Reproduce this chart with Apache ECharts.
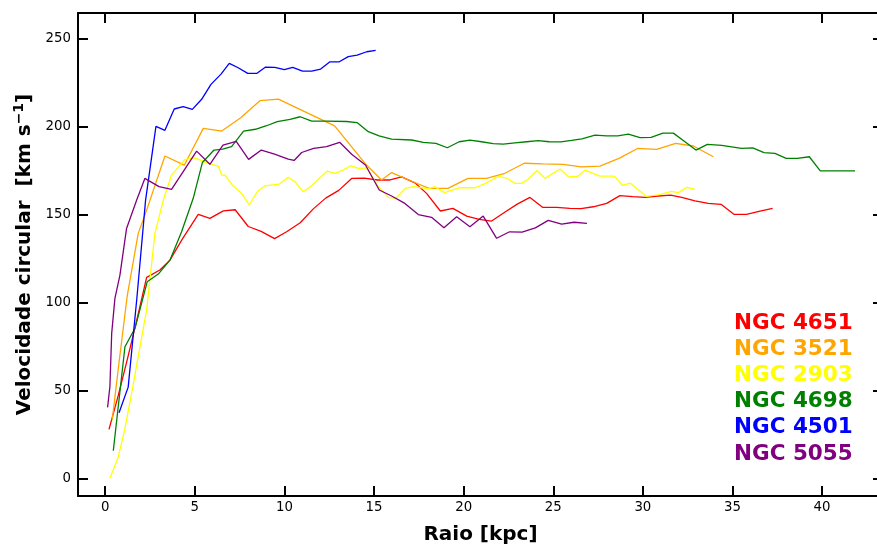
<!DOCTYPE html>
<html>
<head>
<meta charset="utf-8">
<script src="https://cdn.jsdelivr.net/npm/echarts@6/dist/echarts.min.js"></script>
<style>
  html, body { margin: 0; padding: 0; background: #fff; overflow: hidden; }
  #chart { width: 886px; height: 546px; }
</style>
</head>
<body>
<div id="chart"></div>
<script>
// tick values
var xTicks = [0, 5, 10, 15, 20, 25, 30, 35, 40];
var yTicks = [0, 50, 100, 150, 200, 250];

var names = ['NGC 4651', 'NGC 3521', 'NGC 2903', 'NGC 4698', 'NGC 4501', 'NGC 5055'];
var colors = ['#ff0000', '#ffa500', '#ffff00', '#008000', '#0000ff', '#800080'];

// NGC 4651
var r4651 = [0.21, 0.72, 1.24, 1.76, 2.31, 3.05, 3.61, 4.3, 5.19, 5.84, 6.59, 7.25, 7.98, 8.7, 9.45, 10.12, 10.88, 11.61, 12.3, 13.03, 13.75, 14.45, 15.19, 15.89, 16.54, 17.28, 17.93, 18.7, 19.4, 20.17, 20.87, 21.56, 22.31, 22.99, 23.7, 24.42, 25.19, 25.93, 26.55, 27.23, 27.98, 28.72, 29.43, 30.12, 30.86, 31.55, 32.17, 32.91, 33.65, 34.36, 35.08, 35.79, 36.54, 37.24];
var v4651 = [28, 47, 68, 90, 114.3, 118.5, 124.1, 136, 150.1, 147.8, 152.1, 152.7, 143.2, 140.4, 136.3, 140.2, 145.3, 153.2, 159.3, 163.7, 170.5, 170.7, 169.6, 169.6, 171.4, 168, 162, 152, 153.5, 149.1, 147.3, 146.3, 151.4, 155.9, 159.7, 154, 154, 153.5, 153.3, 154.4, 156.3, 160.7, 160.1, 159.7, 160.5, 161, 159.7, 157.8, 156.3, 155.8, 150.1, 150.1, 151.9, 153.5];

// NGC 3521
var r3521 = [0.39, 0.73, 1.23, 1.84, 2.31, 3.33, 4.41, 5.47, 6.5, 7.56, 8.63, 9.66, 12.8, 14.52, 15.42, 15.98, 16.5, 17.0, 18.07, 19.12, 20.24, 21.28, 22.3, 23.38, 24.44, 25.54, 26.58, 27.6, 28.7, 29.7, 30.77, 31.83, 32.82, 33.93];
var v3521 = [33.3, 62.7, 104, 139.3, 152.5, 183.2, 178, 198.9, 197.4, 204.9, 214.6, 215.5, 200.3, 178.7, 169.6, 173.8, 171.5, 169.3, 164.8, 164.8, 170.5, 170.5, 173.4, 179.1, 178.7, 178.5, 177.1, 177.5, 182, 187.5, 187, 190.4, 188.9, 182.8];

// NGC 2903
var r2903 = [0.26, 0.73, 1.1, 1.47, 1.84, 2.31, 2.77, 3.24, 3.7, 4.45, 5.0, 5.75, 6.31, 6.5, 6.68, 7.09, 7.61, 8.04, 8.48, 8.91, 9.71, 10.21, 10.59, 11.05, 11.52, 11.98, 12.39, 12.82, 13.28, 13.69, 14.12, 14.59, 15.24, 15.79, 16.22, 16.75, 17.19, 17.66, 18.03, 18.4, 18.93, 19.79, 20.63, 21.19, 21.93, 22.4, 22.86, 23.24, 23.6, 24.1, 24.54, 25.38, 25.84, 26.35, 26.77, 27.6, 28.4, 28.87, 29.3, 30.19, 30.93, 31.6, 31.98, 32.46, 32.91];
var v2903 = [0.2, 12.5, 28.6, 48.5, 69.3, 95.8, 139.3, 158.2, 172.4, 181.3, 182.2, 179, 177.5, 172.4, 172.4, 166.7, 162, 155.4, 162.9, 166.3, 167.3, 171.1, 168.6, 162.9, 166.3, 170.9, 174.7, 173.4, 175.2, 177.7, 176.2, 176.5, 165.8, 159.7, 159.2, 164.8, 165.8, 165.2, 164.5, 165.8, 162.4, 165.3, 165.2, 167.5, 171.6, 170.7, 167.7, 167.7, 170, 175, 170.5, 175.8, 171.4, 171.6, 175.2, 171.8, 171.8, 166.5, 167.8, 160.3, 161.3, 163.1, 162.4, 165.4, 164.3];

// NGC 4698
var r4698 = [0.45, 1.1, 1.66, 2.34, 2.96, 3.61, 4.26, 4.91, 5.42, 6.07, 6.55, 7.05, 7.72, 8.38, 9.0, 9.6, 10.31, 10.88, 11.52, 12.35, 13.47, 14.05, 14.68, 15.28, 15.98, 17.1, 17.75, 18.45, 19.09, 19.75, 20.35, 21.0, 21.65, 22.21, 22.86, 23.52, 24.16, 24.77, 25.42, 26.02, 26.6, 27.33, 27.98, 28.6, 29.19, 29.84, 30.46, 31.12, 31.7, 32.35, 32.96, 33.6, 34.4, 35.51, 36.13, 36.76, 37.37, 38.0, 38.62, 39.29, 39.9, 41.84];
var v4698 = [15.9, 74.9, 85.4, 111.8, 116.2, 124.1, 140.2, 159.2, 179.5, 186.6, 187.1, 188.5, 197.3, 198.4, 200.4, 202.7, 204, 205.5, 203, 203, 202.8, 202.2, 197, 194.6, 192.8, 192.3, 191, 190.4, 187.9, 191.3, 192.2, 191.3, 190.3, 190, 190.7, 191.3, 191.9, 191.3, 191.2, 192.1, 193, 195.1, 194.7, 194.6, 195.6, 193.7, 193.8, 196.2, 196.2, 191.3, 186.6, 189.8, 189.3, 187.5, 187.8, 185.1, 184.7, 181.9, 181.9, 182.8, 174.8, 174.8];

// NGC 4501
var r4501 = [0.77, 1.28, 1.77, 2.25, 2.83, 3.33, 3.85, 4.35, 4.86, 5.38, 5.9, 6.46, 6.92, 7.42, 7.95, 8.45, 8.95, 9.47, 9.99, 10.46, 11.01, 11.52, 12.02, 12.54, 13.06, 13.56, 14.06, 14.59, 15.09];
var v4501 = [37.5, 52, 103, 158, 200, 197.8, 209.9, 211.2, 209.7, 215.4, 223.9, 229.7, 235.8, 233.3, 230.1, 230.1, 233.7, 233.5, 232.2, 233.5, 231.4, 231.4, 232.6, 236.7, 236.7, 239.6, 240.5, 242.4, 243.2];

// NGC 5055
var r5055 = [0.13, 0.26, 0.36, 0.54, 0.82, 1.19, 1.75, 2.21, 3.0, 3.7, 5.1, 5.84, 6.57, 7.31, 8.0, 8.71, 9.45, 10.21, 10.54, 10.96, 11.63, 12.35, 13.08, 13.75, 14.52, 15.29, 15.98, 16.72, 17.47, 18.21, 18.9, 19.61, 20.35, 21.09, 21.84, 22.56, 23.26, 24.0, 24.72, 25.47, 26.16, 26.88];
var v5055 = [40.5, 52.2, 82.5, 102.4, 115.6, 142.1, 158.1, 170.5, 165.8, 164.3, 186, 178.5, 189.4, 191.5, 181.3, 186.6, 184.3, 181.5, 180.7, 185.2, 187.6, 188.5, 191, 184.2, 178.1, 163.9, 160.5, 156.3, 150, 148.4, 142.5, 148.7, 143.1, 149.1, 136.5, 140.2, 140, 142.4, 146.7, 144.5, 145.6, 145];

var radii = [r4651, r3521, r2903, r4698, r4501, r5055];
var vels = [v4651, v3521, v2903, v4698, v4501, v5055];

var chart = echarts.init(document.getElementById('chart'));
var font = 'DejaVu Sans';

function pairs(r, v) {
    var out = [];
    for (var i = 0; i < r.length; i++) out.push([r[i], v[i]]);
    return out;
}

var series = [];
for (var k = 0; k < names.length; k++) {
    series.push({
        name: names[k],
        type: 'line',
        symbol: 'none',
        data: pairs(radii[k], vels[k]),
        lineStyle: { color: colors[k], width: 1.3 },
        itemStyle: { color: colors[k] },
        animation: false
    });
}

var lineSt = { color: '#000', width: 2 };
function frameAxis(pos, isX, ticks) {
    return {
        type: 'value',
        position: pos,
        min: isX ? -1.52 : -9.8,
        max: isX ? 43.4 : 264.4,
        axisLine: { show: true, onZero: false, lineStyle: lineSt },
        axisTick: { show: true, inside: true, length: 10, lineStyle: lineSt, customValues: ticks },
        axisLabel: { show: false },
        splitLine: { show: false }
    };
}

var xBottom = frameAxis('bottom', true, xTicks);
xBottom.axisLabel = { show: true, customValues: xTicks, color: '#000', fontFamily: font, fontSize: 13.3, margin: 5 };
xBottom.name = 'Raio [kpc]';
xBottom.nameLocation = 'middle';
xBottom.nameGap = 29;
xBottom.nameTextStyle = { fontFamily: font, fontSize: 20, fontWeight: 'bold', color: '#000' };

var yLeft = frameAxis('left', false, yTicks);
yLeft.axisLabel = { show: true, customValues: yTicks, color: '#000', fontFamily: font, fontSize: 13.3, margin: 7 };
yLeft.name = 'Velocidade circular  [km s{sup|\u22121}]';
yLeft.nameLocation = 'middle';
yLeft.nameGap = 41;
yLeft.nameRotate = 90;
yLeft.nameTextStyle = {
    fontFamily: font, fontSize: 20, fontWeight: 'bold', color: '#000',
    rich: { sup: { fontFamily: font, fontSize: 14, fontWeight: 'bold', color: '#000', verticalAlign: 'top', padding: [0, 0, 10, 0] } }
};

option = {
    backgroundColor: '#fff',
    animation: false,
    // plot box runs a few px past the right edge of the window, as in the reference
    grid: { left: 78, top: 13, right: 3, bottom: 50, containLabel: false, outerBoundsMode: 'none' },
    xAxis: [xBottom, frameAxis('top', true, xTicks)],
    yAxis: [yLeft, frameAxis('right', false, yTicks)],
    legend: {
        orient: 'vertical',
        left: 724,
        top: 305,
        itemWidth: 0,
        itemHeight: 0,
        itemGap: 0,
        icon: 'rect',
        selectedMode: false,
        textStyle: { fontFamily: font, fontSize: 21.5, fontWeight: 'bold', lineHeight: 26.2 },
        data: names.map(function (n, i) {
            return { name: n, textStyle: { color: colors[i] } };
        })
    },
    series: series
};
chart.setOption(option);
</script>
</body>
</html>
